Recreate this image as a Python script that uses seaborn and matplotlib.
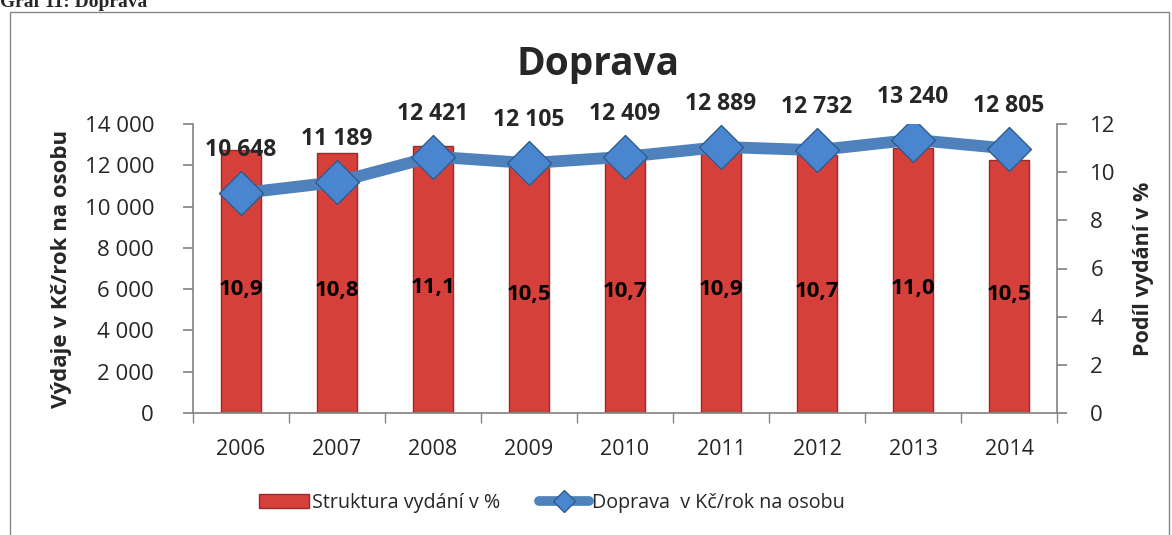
import numpy as np
import matplotlib
matplotlib.use('Agg')
import matplotlib.pyplot as plt
import matplotlib.ticker as mticker
from matplotlib.patches import Rectangle, Patch
from matplotlib.lines import Line2D
import seaborn as sns

years = ['2006', '2007', '2008', '2009', '2010', '2011', '2012', '2013', '2014']
share = [10.9, 10.8, 11.1, 10.5, 10.7, 10.9, 10.7, 11.0, 10.5]
spend = [10648, 11189, 12421, 12105, 12409, 12889, 12732, 13240, 12805]

sns.set_theme(style='white')
plt.rcParams['font.family'] = ['Open Sans', 'DejaVu Sans']

red = '#D6403A'
red_edge = '#9C2A28'
blue = '#4F81BD'
gray = '#868686'

W, H = 1172, 535
fig = plt.figure(figsize=(W / 100, H / 100), dpi=100)
ax = fig.add_axes([193 / W, 1 - 413 / H, (1057 - 193) / W, (413 - 124) / H])

# bars: share of spending (right axis)
sns.barplot(x=years, y=share, ax=ax, color=red, saturation=1, width=0.41,
            edgecolor=red_edge, linewidth=1)
for i, v in enumerate(share):
    ax.text(i, v * 0.47, f'{v:.1f}'.replace('.', ','), ha='center', va='center',
            fontsize=16, fontweight='bold', color='black')

# line: spending in CZK (left axis)
ax2 = ax.twinx()
sns.pointplot(x=years, y=spend, ax=ax2, color=blue, markers='D', errorbar=None,
              markersize=22, linewidth=8.5, markeredgecolor='#2E5C8F',
              markerfacecolor='#4A86D0', markeredgewidth=1)
for i, v in enumerate(spend):
    ax2.annotate(f'{v:,}'.replace(',', ' '), (i, v), xytext=(0, 31),
                 textcoords='offset points', ha='center', va='center',
                 fontsize=16.5, fontweight='bold')

ax.yaxis.tick_right()
ax.yaxis.set_label_position('right')
ax2.yaxis.tick_left()
ax2.yaxis.set_label_position('left')

ax.set_ylim(0, 12)
ax.set_yticks(np.arange(0, 13, 2))
ax2.set_ylim(0, 14000)
ax2.set_yticks(np.arange(0, 14001, 2000))
ax2.yaxis.set_major_formatter(mticker.FuncFormatter(lambda v, _: f'{int(v):,}'.replace(',', ' ')))
for a in (ax, ax2):
    a.set_xlim(-0.5, len(years) - 0.5)

ax.set_xlabel('')
ax.set_ylabel('Podíl vydání v %', fontsize=15.5, fontweight='bold', labelpad=12)
ax2.set_ylabel('Výdaje v Kč/rok na osobu', fontsize=16, fontweight='bold', labelpad=9)
ax2.set_xlabel('')

ax.spines['top'].set_visible(False)
ax.spines['left'].set_visible(False)
ax.spines['right'].set_color(gray)
ax.spines['bottom'].set_color(gray)
for s in ('top', 'right', 'bottom'):
    ax2.spines[s].set_visible(False)
ax2.spines['left'].set_color(gray)

ax.set_xticks(np.arange(-0.5, len(years), 1), minor=True)
ax.tick_params(axis='x', which='major', length=0, pad=19, labelsize=15.5)
ax.tick_params(axis='x', which='minor', bottom=True, length=7, color=gray, direction='out')
ax.tick_params(axis='y', right=True, length=7, color=gray, direction='out', pad=17, labelsize=16)
ax2.tick_params(axis='y', left=True, right=False, length=7, color=gray, direction='out',
                pad=21, labelsize=16)

fig.text(598 / W, 1 - 65 / H, 'Doprava', ha='center', va='center', fontsize=28, fontweight='bold')
fig.text(0.0, 1 - 7 / H, 'Graf 11: Doprava', ha='left', va='baseline', fontsize=14,
         fontweight='bold', family='Liberation Serif')
fig.add_artist(Rectangle((10 / W, -0.1), (1169 - 10) / W, 1.1 - 12 / H, transform=fig.transFigure,
                         fill=False, edgecolor=gray, linewidth=1))

handles = [Patch(facecolor=red, edgecolor=red_edge),
           Line2D([], [], color=blue, linewidth=7, marker='D', markersize=11,
                  markerfacecolor='#4A86D0', markeredgecolor='#2E5C8F', solid_capstyle='round')]
labels = ['Struktura vydání v %', 'Doprava  v Kč/rok na osobu']
fig.legend(handles, labels, loc='center', bbox_to_anchor=(552 / W, 1 - 503 / H), ncol=2,
           frameon=False, fontsize=14.2, handlelength=2.5, handletextpad=0.15, columnspacing=2.0)

fig.savefig('out.png', dpi=100)
